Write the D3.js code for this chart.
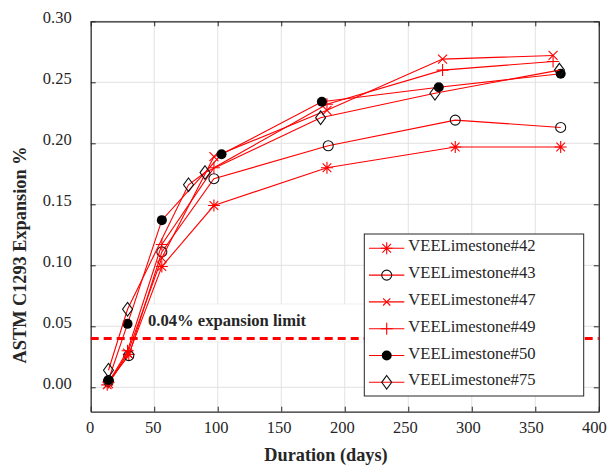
<!DOCTYPE html>
<html>
<head>
<meta charset="utf-8">
<script src="https://cdn.jsdelivr.net/npm/d3@7/dist/d3.min.js"></script>
<style>
  html, body { margin: 0; padding: 0; background: #fff; }
  svg { display: block; }
  text { font-family: "Liberation Serif", "Times New Roman", serif; }
</style>
</head>
<body>
<svg id="chart" width="607" height="467"></svg>
<script>
// Expansion measurements (ASTM C1293), days vs. expansion %
const seriesNames = ["VEELimestone#42", "VEELimestone#43", "VEELimestone#47",
                     "VEELimestone#49", "VEELimestone#50", "VEELimestone#75"];
const days42 = [13, 30, 56, 97, 186, 287, 370];
const vals42 = [0.002, 0.027, 0.099, 0.149, 0.180, 0.197, 0.197];
const days43 = [14, 30, 56, 97, 187, 287, 370];
const vals43 = [0.005, 0.026, 0.111, 0.171, 0.198, 0.219, 0.213];
const days47 = [14, 29, 56, 97, 186, 277, 364];
const vals47 = [0.003, 0.028, 0.106, 0.189, 0.227, 0.269, 0.272];
const days49 = [14, 29, 56, 97, 186, 277, 364];
const vals49 = [0.004, 0.030, 0.117, 0.180, 0.232, 0.260, 0.267];
const days50 = [14, 29, 56, 103, 182, 274, 370];
const vals50 = [0.006, 0.052, 0.137, 0.191, 0.234, 0.246, 0.257];
const days75 = [14, 29, 77, 90, 181, 271, 369];
const vals75 = [0.014, 0.064, 0.166, 0.176, 0.221, 0.241, 0.260];
const markerTypes = ["asterisk", "circle", "cross", "plus", "dot", "diamond"];

const xTicks = [0, 50, 100, 150, 200, 250, 300, 350, 400];
const yTicks = [0.00, 0.05, 0.10, 0.15, 0.20, 0.25, 0.30];
const limitValue = 0.04;
const limitLabel = "0.04% expansion limit";

const allDays = [days42, days43, days47, days49, days50, days75];
const allVals = [vals42, vals43, vals47, vals49, vals50, vals75];
const series = seriesNames.map((name, i) => ({
  name, marker: markerTypes[i],
  points: allDays[i].map((d, j) => ({ d, v: allVals[i][j] }))
}));

const svg = d3.select("#chart");
const plotL = 90.7, plotR = 598.8, plotT = 21.3, plotB = 411.7;
const x = d3.scaleLinear().domain([0, 400]).range([plotL, plotR]);
const y = d3.scaleLinear().domain([-0.02, 0.30]).range([plotB, plotT]);
const RED = "#ff0000", AX = "#262626";

// grid
const grid = svg.append("g");
grid.selectAll(".gx").data(xTicks).join("line")
  .attr("x1", d => x(d)).attr("x2", d => x(d)).attr("y1", plotT).attr("y2", plotB)
  .attr("stroke", "#e2e2e2").attr("stroke-width", 1);
grid.selectAll(".gy").data(yTicks).join("line")
  .attr("x1", plotL).attr("x2", plotR).attr("y1", d => y(d)).attr("y2", d => y(d))
  .attr("stroke", "#e2e2e2").attr("stroke-width", 1);

// axes with inward ticks on all four sides
const fmtY = d3.format(".2f");
const axB = svg.append("g").attr("transform", `translate(0,${plotB})`)
  .call(d3.axisBottom(x).tickValues(xTicks).tickSizeInner(-5).tickSizeOuter(0).tickPadding(10));
const axT = svg.append("g").attr("transform", `translate(0,${plotT})`)
  .call(d3.axisTop(x).tickValues(xTicks).tickSizeInner(-5).tickSizeOuter(0).tickFormat(""));
const axL = svg.append("g").attr("transform", `translate(${plotL},0)`)
  .call(d3.axisLeft(y).tickValues(yTicks).tickFormat(fmtY).tickSizeInner(-5).tickSizeOuter(0).tickPadding(19));
const axR = svg.append("g").attr("transform", `translate(${plotR},0)`)
  .call(d3.axisRight(y).tickValues(yTicks).tickSizeInner(-5).tickSizeOuter(0).tickFormat(""));
[axB, axT, axL, axR].forEach(a => {
  a.select(".domain").attr("stroke", AX).attr("stroke-width", 1.2);
  a.selectAll(".tick line").attr("stroke", AX);
  a.selectAll(".tick text").attr("fill", AX)
    .style("font-family", '"Liberation Serif", serif').style("font-size", "16.5px");
});
axL.selectAll(".tick text").attr("dy", "0.05em");
axB.selectAll(".tick text").attr("dy", "0.71em").attr("dx", d => -1 - 4 * d / 400);

// limit label box
svg.append("rect").attr("x", 140).attr("y", 304).attr("width", 228).attr("height", 38)
  .attr("fill", "#fff").attr("stroke", "#ececec").attr("stroke-width", 0.8);
svg.append("text").attr("x", 148).attr("y", 326)
  .attr("font-size", 16.6).attr("font-weight", "bold").attr("fill", AX)
  .text(limitLabel);

// limit line
svg.append("line").attr("x1", plotL).attr("x2", plotR)
  .attr("y1", y(limitValue)).attr("y2", y(limitValue))
  .attr("stroke", RED).attr("stroke-width", 3).attr("stroke-dasharray", "8,5");

// marker drawing
function drawMarker(g, type, cx, cy, s) {
  s = s || 1;
  if (type === "asterisk") {
    const r = 6 * s, q = r * 0.72;
    g.append("path").attr("d",
      `M${cx - r},${cy}L${cx + r},${cy}M${cx},${cy - r}L${cx},${cy + r}` +
      `M${cx - q},${cy - q}L${cx + q},${cy + q}M${cx - q},${cy + q}L${cx + q},${cy - q}`)
      .attr("stroke", RED).attr("stroke-width", 1.1).attr("fill", "none");
  } else if (type === "circle") {
    g.append("circle").attr("cx", cx).attr("cy", cy).attr("r", 5 * s)
      .attr("fill", "none").attr("stroke", "#111").attr("stroke-width", 1.1);
  } else if (type === "cross") {
    const r = 4.5 * s;
    g.append("path").attr("d", `M${cx - r},${cy - r}L${cx + r},${cy + r}M${cx - r},${cy + r}L${cx + r},${cy - r}`)
      .attr("stroke", RED).attr("stroke-width", 1.1);
  } else if (type === "plus") {
    const r = 6 * s;
    g.append("path").attr("d", `M${cx - r},${cy}L${cx + r},${cy}M${cx},${cy - r}L${cx},${cy + r}`)
      .attr("stroke", RED).attr("stroke-width", 1.1);
  } else if (type === "dot") {
    g.append("circle").attr("cx", cx).attr("cy", cy).attr("r", 5 * s).attr("fill", "#000");
  } else if (type === "diamond") {
    const w = 5 * s, h = 6.8 * s;
    g.append("path").attr("d", `M${cx},${cy - h}L${cx + w},${cy}L${cx},${cy + h}L${cx - w},${cy}Z`)
      .attr("fill", "none").attr("stroke", "#111").attr("stroke-width", 1.1);
  }
}

// series lines + markers
const line = d3.line().x(p => x(p.d)).y(p => y(p.v));
series.forEach(s => {
  const g = svg.append("g");
  g.append("path").attr("d", line(s.points)).attr("fill", "none")
    .attr("stroke", RED).attr("stroke-width", 1.1);
  s.points.forEach(p => drawMarker(g, s.marker, x(p.d), y(p.v)));
});

// legend
const lg = svg.append("g");
lg.append("rect").attr("x", 364.3).attr("y", 234).attr("width", 219.4).attr("height", 162)
  .attr("fill", "#fff").attr("stroke", AX).attr("stroke-width", 1);
series.forEach((s, i) => {
  const ly = 248.3 + i * 26.8;
  const g = lg.append("g");
  g.append("line").attr("x1", 369).attr("x2", 404.3).attr("y1", ly).attr("y2", ly)
    .attr("stroke", RED).attr("stroke-width", 1.1);
  drawMarker(g, s.marker, 386.7, ly, s.marker === "cross" ? 0.8 : 1);
  g.append("text").attr("x", 408.3).attr("y", ly + 3)
    .attr("font-size", 16.6).attr("fill", AX).text(s.name);
});

// axis titles
svg.append("text").attr("x", 326).attr("y", 461).attr("text-anchor", "middle")
  .attr("font-size", 18.3).attr("font-weight", "bold").attr("fill", AX)
  .text("Duration (days)");
svg.append("text").attr("transform", "translate(25.5,255) rotate(-90)")
  .attr("text-anchor", "middle")
  .attr("font-size", 18.3).attr("font-weight", "bold").attr("fill", AX)
  .text("ASTM C1293 Expansion %");
</script>
</body>
</html>
